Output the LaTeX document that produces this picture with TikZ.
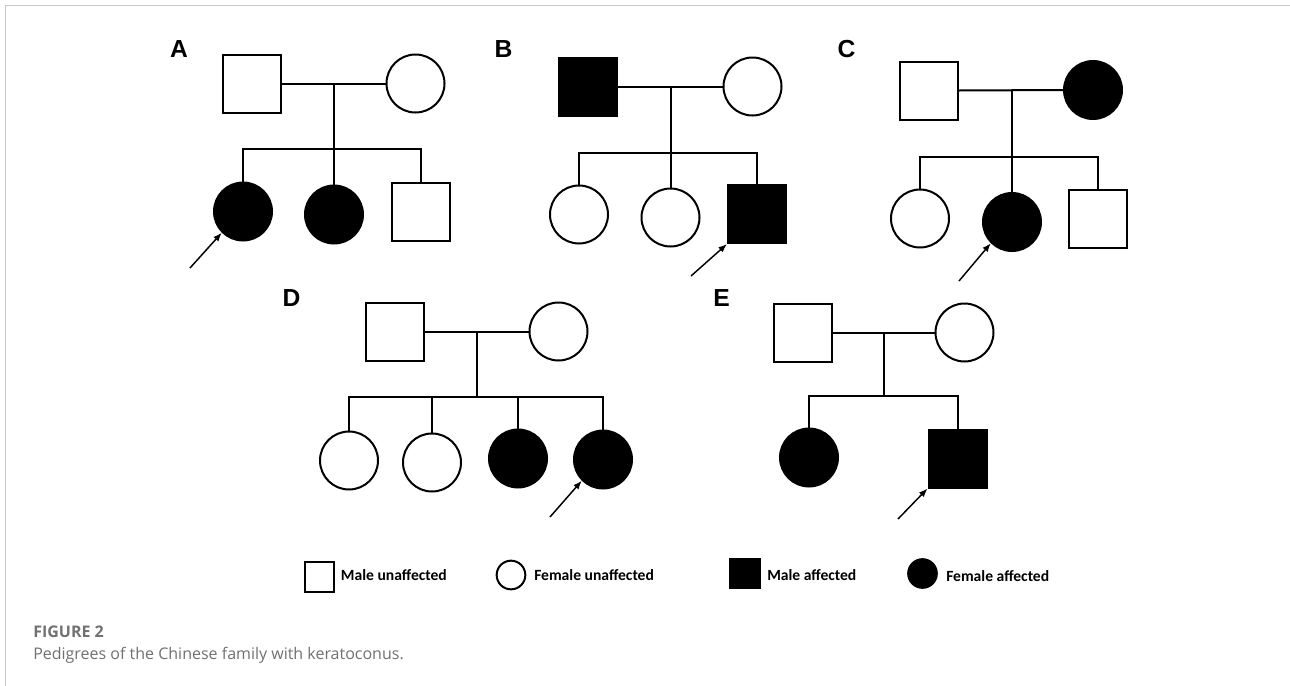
\documentclass[tikz,border=0pt]{standalone}
\usepackage{fontspec}
\usetikzlibrary{arrows.meta}
\newfontfamily\labfont{Liberation Sans}
\newfontfamily\legfont{Carlito}
\newfontfamily\capfont{Open Sans}
\definecolor{capgray}{HTML}{717171}
\definecolor{framegray}{HTML}{C8C8C8}
\tikzset{
  ped/.style={line width=1.5pt},
  msq/.style={rectangle, draw, line width=1.5pt, minimum size=43.5pt, inner sep=0pt},
  fci/.style={circle, draw, line width=1.5pt, minimum size=43.5pt, inner sep=0pt},
  aff/.style={fill=black},
  proband/.style={line width=1.1pt, -{Latex[length=6.5pt,width=5pt]}},
  plabel/.style={font=\labfont\bfseries\fontsize{18.5pt}{20pt}\selectfont, inner sep=0pt},
  lsq/.style={rectangle, draw, line width=1.5pt, minimum size=22pt, inner sep=0pt},
  lci/.style={circle, draw, line width=1.5pt, minimum size=21.5pt, inner sep=0pt},
  ltext/.style={font=\legfont\bfseries\fontsize{11.7pt}{13pt}\selectfont, inner sep=0pt, anchor=base west},
  captext/.style={anchor=base west, inner sep=0pt, text=capgray},
}
\begin{document}
\begin{tikzpicture}[x=0.75pt,y=-0.75pt]
\useasboundingbox (0,0) rectangle (1290,686);
\fill[white] (0,0) rectangle (1290,686);
\draw[framegray, line width=1.1pt] (5.5,686) -- (5.5,5.5) -- (1290,5.5);

% ---------- Panel A ----------
\node[plabel] (labA) at (179,49) {A};
\node[msq] (a1) at (252,83.5) {};
\node[fci] (a2) at (415.5,83.5) {};
\node[fci,aff] (a3) at (243,211.5) {};
\node[fci,aff] (a4) at (334,214.5) {};
\node[msq] (a5) at (420.5,211.5) {};
\coordinate (am) at (334,83.5);
\coordinate (as) at (334,149);
\coordinate (ap) at (190,268);
\draw[ped] (a1.east) -- (a2.west);
\draw[ped] (am) -- (as) -- (a4.north);
\draw[ped] (a3.north) -- (a3.north |- as) -- (a5.north |- as) -- (a5.north);
\draw[proband] (ap) -- (a3.-135);

% ---------- Panel B ----------
\node[plabel] (labB) at (503.5,49) {B};
\node[msq,aff] (b1) at (588,86.5) {};
\node[fci] (b2) at (752.5,86.5) {};
\node[fci] (b3) at (579,214.5) {};
\node[fci] (b4) at (670.5,217.5) {};
\node[msq,aff] (b5) at (757,214) {};
\coordinate (bm) at (670.5,86.5);
\coordinate (bs) at (670.5,153);
\coordinate (bp) at (691,276);
\draw[ped] (b1.east) -- (b2.west);
\draw[ped] (bm) -- (bs) -- (b4.north);
\draw[ped] (b3.north) -- (b3.north |- bs) -- (b5.north |- bs) -- (b5.north);
\draw[proband] (bp) -- (b5.south west);

% ---------- Panel C ----------
\node[plabel] (labC) at (846.5,49) {C};
\node[msq] (c1) at (929,90.5) {};
\node[fci,aff] (c2) at (1093,90) {};
\node[fci] (c3) at (920,218.5) {};
\node[fci,aff] (c4) at (1012,222) {};
\node[msq] (c5) at (1098,218.5) {};
\coordinate (cm) at (1012,90);
\coordinate (cs) at (1012,157);
\coordinate (cp) at (959,281);
\draw[ped] (c1.east) -- (c2.west);
\draw[ped] (cm) -- (cs) -- (c4.north);
\draw[ped] (c3.north) -- (c3.north |- cs) -- (c5.north |- cs) -- (c5.north);
\draw[proband] (cp) -- (c4.-135);

% ---------- Panel D ----------
\node[plabel] (labD) at (291.5,298.5) {D};
\node[msq] (d1) at (394.5,331.5) {};
\node[fci] (d2) at (558.5,331.5) {};
\node[fci] (d3) at (349,460.5) {};
\node[fci] (d4) at (432,462.5) {};
\node[fci,aff] (d5) at (518,458.5) {};
\node[fci,aff] (d6) at (603,459.5) {};
\coordinate (dm) at (477,331.5);
\coordinate (ds) at (477,397);
\coordinate (dp) at (550,517);
\draw[ped] (d1.east) -- (d2.west);
\draw[ped] (dm) -- (ds);
\draw[ped] (d3.north) -- (d3.north |- ds) -- (d6.north |- ds) -- (d6.north);
\draw[ped] (d4.north |- ds) -- (d4.north);
\draw[ped] (d5.north |- ds) -- (d5.north);
\draw[proband] (dp) -- (d6.-135);

% ---------- Panel E ----------
\node[plabel] (labE) at (721.5,298.5) {E};
\node[msq] (e1) at (802.5,332.5) {};
\node[fci] (e2) at (964.5,332.5) {};
\node[fci,aff] (e3) at (809,457.5) {};
\node[msq,aff] (e4) at (957.5,458.5) {};
\coordinate (em) at (884,332.5);
\coordinate (es) at (884,396);
\coordinate (ep) at (898,519);
\draw[ped] (e1.east) -- (e2.west);
\draw[ped] (em) -- (es);
\draw[ped] (e3.north) -- (e3.north |- es) -- (e4.north |- es) -- (e4.north);
\draw[proband] (ep) -- (e4.south west);

% ---------- Legend ----------
\node[lsq] (l1) at (319.5,577) {};
\node[ltext] (t1) at (340.7,580) {Male unaffected};
\node[lci] (l2) at (511,575) {};
\node[ltext] (t2) at (534,580) {Female unaffected};
\node[lsq,aff] (l3) at (745,573.5) {};
\node[ltext] (t3) at (767,580) {Male affected};
\node[lci,aff] (l4) at (922.5,573.5) {};
\node[ltext] (t4) at (946,581) {Female affected};

% ---------- Caption ----------
\node[captext, font=\capfont\bfseries\fontsize{12pt}{14pt}\selectfont] (fig) at (33,637) {FIGURE 2};
\node[captext, font=\capfont\fontsize{12pt}{14pt}\selectfont] (cap) at (33,659) {Pedigrees of the Chinese family with keratoconus.};
\end{tikzpicture}
\end{document}
